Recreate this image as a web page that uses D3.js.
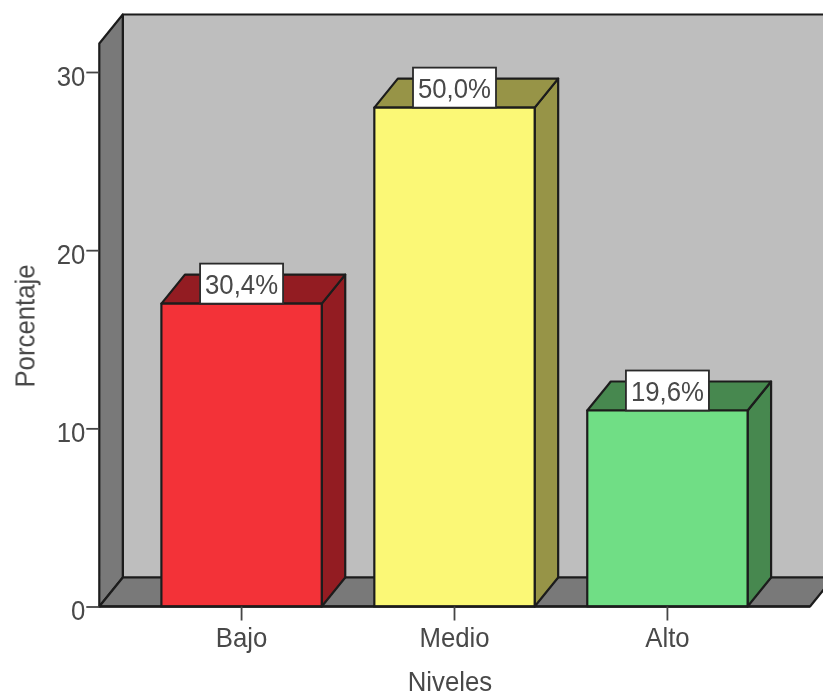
<!DOCTYPE html>
<html><head><meta charset="utf-8">
<script src="https://cdnjs.cloudflare.com/ajax/libs/d3/7.9.0/d3.min.js"></script>
<style>html,body{margin:0;padding:0;background:#fff;overflow:hidden}svg{display:block}text{font-family:"Liberation Sans",Arial,sans-serif}</style>
</head><body><svg id="c" width="823" height="693"></svg>
<script>
const categories = ["Bajo","Medio","Alto"];
const values = [17,28,11];
const barLabels = ["30,4%","50,0%","19,6%"];
const frontColors = ["#f33339","#fbf876","#70de85"];
const sideColors = ["#931e22","#979446","#46884f"];
const yTicks = [0,10,20,30];
const yTitle = "Porcentaje", xTitle = "Niveles";

const W=823, H=693, plotLeft=99.3, plotRight=810, base=606.5, wallTop=14.5, dx=23.5, dy=-29;
const ink="#1c1c1c", txt="#484848", fs=28, narrow=0.92;
const svg=d3.select("#c");
svg.append("defs").append("filter").attr("id","soft").append("feGaussianBlur").attr("stdDeviation",0.4);
const root=svg.append("g").attr("filter","url(#soft)");

const y=d3.scaleLinear().domain([0,30]).range([base,72]);
const x=d3.scaleBand().domain(categories).range([135,774]).paddingInner(0.247).paddingOuter(0.124);
const path=p=>{const l=d3.path();p.forEach((q,i)=>i?l.lineTo(q[0],q[1]):l.moveTo(q[0],q[1]));l.closePath();return l.toString();};
const face=(p,fill,sw=2.2)=>root.append("path").attr("d",path(p)).attr("fill",fill).attr("stroke",ink).attr("stroke-width",sw).attr("stroke-linejoin","round");

// walls
face([[plotLeft+dx,wallTop],[W+40,wallTop],[W+40,base+dy],[plotLeft+dx,base+dy]],"#bebebe");
face([[plotLeft,wallTop-dy],[plotLeft+dx,wallTop],[plotLeft+dx,base+dy],[plotLeft,base]],"#797979");
face([[plotLeft,base],[plotLeft+dx,base+dy],[W+40,base+dy],[plotRight+dx,base+dy],[plotRight,base]],"#797979");

// bars
categories.forEach((c,i)=>{
  const x0=x(c),x1=x0+x.bandwidth(),yt=y(values[i]);
  face([[x1,yt],[x1+dx,yt+dy],[x1+dx,base+dy],[x1,base]],sideColors[i]);
  face([[x0,yt],[x0+dx,yt+dy],[x1+dx,yt+dy],[x1,yt]],sideColors[i]);
  face([[x0,yt],[x1,yt],[x1,base],[x0,base]],frontColors[i]);
});

// baseline
root.append("line").attr("x1",plotLeft).attr("x2",plotRight).attr("y1",base).attr("y2",base).attr("stroke",ink).attr("stroke-width",2.4);

// value labels
categories.forEach((c,i)=>{
  const cx=x(c)+x.bandwidth()/2, yt=y(values[i]);
  root.append("rect").attr("x",cx-41.5).attr("y",yt-40).attr("width",83).attr("height",40)
    .attr("fill","#fff").attr("stroke","#2a2a2a").attr("stroke-width",1.8);
  root.append("text").attr("x",cx).attr("y",yt-10).attr("text-anchor","middle").attr("font-size",fs).attr("fill",txt).text(barLabels[i]);
});

// y axis
const ya=root.append("g").attr("transform",`translate(${plotLeft},0)`)
  .call(d3.axisLeft(y).tickValues(yTicks).tickSize(13).tickPadding(1).tickFormat(d3.format("d")));
ya.select(".domain").remove();
ya.selectAll("line").attr("stroke","#444").attr("stroke-width",1.8);
ya.selectAll("text").attr("font-size",fs).attr("fill",txt).attr("font-family","Liberation Sans").attr("dy","0.47em");

// x axis
const xa=root.append("g").attr("transform",`translate(0,${base})`)
  .call(d3.axisBottom(x).tickSize(14).tickPadding(6.5));
xa.select(".domain").remove();
xa.selectAll("line").attr("stroke","#444").attr("stroke-width",1.8);
xa.selectAll("text").attr("font-size",fs).attr("fill",txt).attr("font-family","Liberation Sans");

root.append("text").attr("x",450).attr("y",691).attr("text-anchor","middle").attr("font-size",fs).attr("fill",txt).text(xTitle);
root.append("text").attr("transform","translate(34.5,326) rotate(-90)").attr("text-anchor","middle").attr("font-size",fs).attr("fill",txt).text(yTitle);

// the reference's typeface is slightly condensed
root.selectAll("text").each(function(){
  d3.select(this).attr("textLength",this.getComputedTextLength()*narrow).attr("lengthAdjust","spacingAndGlyphs");
});
</script></body></html>
